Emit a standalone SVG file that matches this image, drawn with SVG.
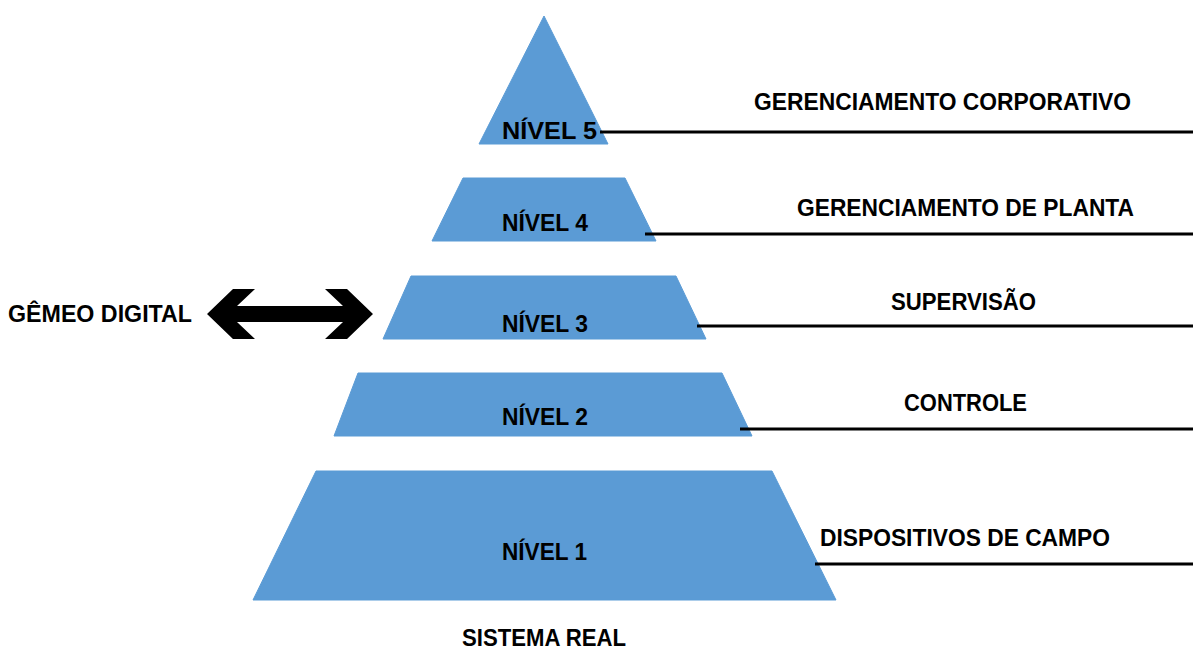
<svg xmlns="http://www.w3.org/2000/svg" width="1193" height="649" viewBox="0 0 1193 649">
<style>
.lvl{fill:#5B9BD5;stroke:#5B9BD5;stroke-width:1}
.t{font-family:"Liberation Sans",Arial,sans-serif;font-weight:bold;font-size:23px;fill:#000}
.ln{stroke:#000;stroke-width:3;fill:none}
</style>
<rect width="1193" height="649" fill="#fff"/>
<g id="nivel5">
<polygon class="lvl" points="544,16 608,144 479,144"/>
<text class="t" x="502" y="139" textLength="95" lengthAdjust="spacingAndGlyphs">NÍVEL 5</text>
</g>
<g id="nivel4">
<polygon class="lvl" points="463,178 625,178 656,241 432,241"/>
<text class="t" x="502" y="231" textLength="86" lengthAdjust="spacingAndGlyphs">NÍVEL 4</text>
</g>
<g id="nivel3">
<polygon class="lvl" points="411,276 676,276 706,339 383,339"/>
<text class="t" x="502" y="332" textLength="86" lengthAdjust="spacingAndGlyphs">NÍVEL 3</text>
</g>
<g id="nivel2">
<polygon class="lvl" points="358,373 722,373 752,436 334,436"/>
<text class="t" x="502" y="425" textLength="86" lengthAdjust="spacingAndGlyphs">NÍVEL 2</text>
</g>
<g id="nivel1">
<polygon class="lvl" points="316,471 772,471 836,600 253,600"/>
<text class="t" x="502" y="560" textLength="85" lengthAdjust="spacingAndGlyphs">NÍVEL 1</text>
</g>
<g id="sistema-real">
<text class="t" x="462" y="646" textLength="164" lengthAdjust="spacingAndGlyphs">SISTEMA REAL</text>
</g>
<g id="gemeo-digital">
<text class="t" x="8" y="322" textLength="184" lengthAdjust="spacingAndGlyphs">GÊMEO DIGITAL</text>
</g>
<g id="labels">
<text class="t" x="754" y="110" textLength="377" lengthAdjust="spacingAndGlyphs">GERENCIAMENTO CORPORATIVO</text>
<text class="t" x="797" y="216" textLength="337" lengthAdjust="spacingAndGlyphs">GERENCIAMENTO DE PLANTA</text>
<text class="t" x="891" y="310" textLength="145" lengthAdjust="spacingAndGlyphs">SUPERVISÃO</text>
<text class="t" x="904" y="411" textLength="123" lengthAdjust="spacingAndGlyphs">CONTROLE</text>
<text class="t" x="820" y="546" textLength="290" lengthAdjust="spacingAndGlyphs">DISPOSITIVOS DE CAMPO</text>
</g>
<g id="connectors">
<line class="ln" x1="600" y1="132" x2="1193" y2="132"/>
<line class="ln" x1="645" y1="234" x2="1193" y2="234"/>
<line class="ln" x1="697" y1="326" x2="1193" y2="326"/>
<line class="ln" x1="740" y1="429" x2="1193" y2="429"/>
<line class="ln" x1="815" y1="564" x2="1193" y2="564"/>
<polygon fill="#000" points="207,314 233,289 255,289 237,306 343,306 325,289 347,289 373,314 347,339 325,339 343,322 237,322 255,339 233,339"/>
</g>
</svg>
